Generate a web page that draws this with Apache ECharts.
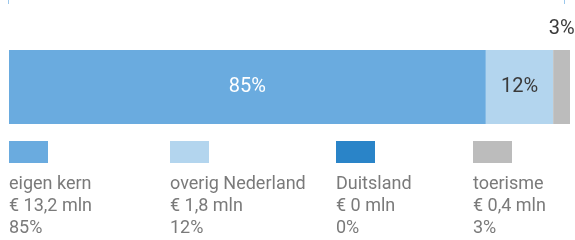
<!DOCTYPE html>
<html>
<head>
<meta charset="utf-8">
<script src="https://cdn.jsdelivr.net/npm/echarts@6/dist/echarts.min.js"></script>
<style>
  html, body { margin: 0; padding: 0; background: #fff; }
  #chart { width: 575px; height: 240px; }
</style>
</head>
<body>
<div id="chart"></div>
<script>
// categorieën en waarden
const names = ['eigen kern', 'overig Nederland', 'Duitsland', 'toerisme'];
const amounts = ['€ 13,2 mln', '€ 1,8 mln', '€ 0 mln', '€ 0,4 mln'];
const shares = [85, 12, 0, 3];
const colors = ['#6aabdf', '#b3d5ee', '#2a84c8', '#bcbcbc'];
const labelColors = ['#ffffff', '#3a3a3a', '#3a3a3a', '#3a3a3a'];
const legendX = [9, 170, 336, 473];

const chart = echarts.init(document.getElementById('chart'));

const series = names.map((name, i) => ({
  name: name,
  type: 'bar',
  stack: 'totaal',
  barWidth: '100%',
  data: [shares[i]],
  itemStyle: { color: colors[i] },
  label: {
    show: shares[i] > 0,
    position: shares[i] < 5 ? 'top' : 'inside',
    distance: 11,
    formatter: '{c}%',
    color: labelColors[i],
    fontSize: 20,
    fontFamily: 'Roboto',
  },
  emphasis: { disabled: true },
}));

// legenda: blokje met drie regels tekst eronder
const legend = [];
names.forEach((name, i) => {
  legend.push({
    type: 'rect',
    left: legendX[i],
    top: 141,
    shape: { width: 39, height: 22 },
    style: { fill: colors[i] },
  });
  legend.push({
    type: 'text',
    left: legendX[i],
    top: 173,
    style: {
      text: name + '\n' + amounts[i] + '\n' + shares[i] + '%',
      fill: '#7a7a7a',
      font: '18px Roboto',
      lineHeight: 22,
    },
  });
});

// kleine haakjes bovenaan
legend.push({ type: 'line', shape: { x1: 8.5, y1: 0, x2: 8.5, y2: 4 }, style: { stroke: '#9cc8ec', lineWidth: 1 } });
legend.push({ type: 'line', shape: { x1: 564.5, y1: 0, x2: 564.5, y2: 4 }, style: { stroke: '#9cc8ec', lineWidth: 1 } });

const option = {
  animation: false,
  grid: { left: 9, right: 5, top: 50, height: 74 },
  xAxis: { type: 'value', min: 0, max: 100, show: false },
  yAxis: { type: 'category', data: ['aandeel'], show: false },
  series: series,
  graphic: legend,
};

chart.setOption(option);
</script>
</body>
</html>
